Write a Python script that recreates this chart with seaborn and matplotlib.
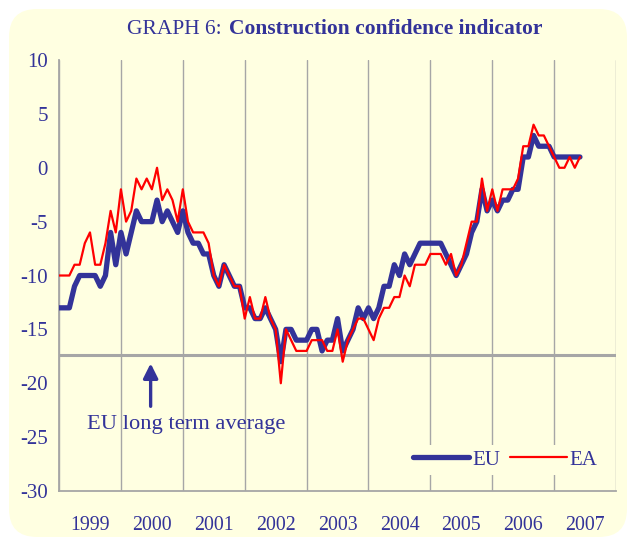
import matplotlib
matplotlib.use("Agg")
import matplotlib.pyplot as plt
from matplotlib.patches import FancyBboxPatch
from matplotlib.transforms import IdentityTransform
from matplotlib.lines import Line2D
import pandas as pd
import seaborn as sns

# monthly values, Jan 1999 .. Jun 2007
months = pd.date_range("1999-01-01", periods=102, freq="MS")
eu = [-13, -13, -13, -11, -10, -10, -10, -10, -11, -10, -6, -9,
      -6, -8, -6, -4, -5, -5, -5, -3, -5, -4, -5, -6,
      -4, -6, -7, -7, -8, -8, -10, -11, -9, -10, -11, -11,
      -13, -13, -14, -14, -13, -14, -15, -18, -15, -15, -16, -16,
      -16, -15, -15, -17, -16, -16, -14, -17, -16, -15, -13, -14,
      -13, -14, -13, -11, -11, -9, -10, -8, -9, -8, -7, -7,
      -7, -7, -7, -8, -9, -10, -9, -8, -6, -5, -2, -4,
      -3, -4, -3, -3, -2, -2, 1, 1, 3, 2, 2, 2,
      1, 1, 1, 1, 1, 1]
ea = [-10, -10, -10, -9, -9, -7, -6, -9, -9, -7, -4, -6,
      -2, -5, -4, -1, -2, -1, -2, 0, -3, -2, -3, -5,
      -2, -5, -6, -6, -6, -7, -10, -11, -9, -10, -11, -11,
      -14, -12, -14, -14, -12, -14, -15, -20, -15, -16, -17, -17,
      -17, -16, -16, -16, -17, -17, -15, -18, -16, -15, -14, -14,
      -15, -16, -14, -13, -13, -12, -12, -10, -11, -9, -9, -9,
      -8, -8, -8, -9, -8, -10, -9, -7, -5, -5, -1, -4,
      -2, -4, -2, -2, -2, -1, 2, 2, 4, 3, 3, 2,
      1, 0, 0, 1, 0, 1]
years = list(range(1999, 2008))
y_ticks = [10, 5, 0, -5, -10, -15, -20, -25, -30]
eu_long_term_avg = -17.4

navy = "#333399"
cream = "#FFFFE1"
grey = "#A6A6A6"

sns.set_style("white")
plt.rcParams["font.family"] = ["Liberation Serif", "DejaVu Serif"]
plt.rcParams["axes.unicode_minus"] = False

df = pd.DataFrame({"t": months.year + (months.month - 1) / 12, "EU": eu, "EA": ea})

fig = plt.figure(figsize=(6.28, 5.38), dpi=100, facecolor="white")
# rounded cream panel behind everything
fig.add_artist(FancyBboxPatch((9, 1), 618, 528, boxstyle="round,pad=0,rounding_size=28",
                              transform=IdentityTransform(), facecolor=cream,
                              edgecolor="none", zorder=0))

ax = fig.add_axes([0.094, 0.0874, 0.887, 0.801])
ax.set_facecolor(cream)

ax.axhline(eu_long_term_avg, color=grey, lw=2.2, zorder=1)
sns.lineplot(data=df, x="t", y="EU", ax=ax, color=navy, lw=3.8, zorder=3)
sns.lineplot(data=df, x="t", y="EA", ax=ax, color="red", lw=1.6, zorder=4)

ax.set_xlim(1999, 2008)
ax.set_ylim(-30, 10)
ax.set_xlabel("")
ax.set_ylabel("")

# year boundaries as grid, labels centred in each year
ax.set_xticks(years + [2008])
ax.set_xticklabels([])
ax.set_xticks([y + 0.5 for y in years], minor=True)
ax.set_xticklabels([str(y) for y in years], minor=True)
ax.grid(axis="x", which="major", color=grey, lw=1)
ax.tick_params(axis="x", which="both", length=0)
ax.tick_params(axis="x", which="minor", pad=18, labelsize=14.3, labelcolor=navy)

ax.set_yticks(y_ticks)
ax.set_yticklabels([str(v) for v in y_ticks])
ax.tick_params(axis="y", direction="in", length=6, color=grey, pad=8,
               labelsize=15, labelcolor=navy)

for s in ["top", "right"]:
    ax.spines[s].set_visible(False)
for s in ["left", "bottom"]:
    ax.spines[s].set_color(grey)
    ax.spines[s].set_linewidth(1.3)

ax.annotate("", xy=(2000.48, -17.9), xytext=(2000.48, -22.4),
            arrowprops=dict(arrowstyle="-|>", color=navy, lw=2.4, mutation_scale=22))
ax.text(2001.05, -23.8, "EU long term average", ha="center", va="center",
        color=navy, fontsize=16.2)

handles = [Line2D([], [], color=navy, lw=3.8), Line2D([], [], color="red", lw=1.6)]
leg = ax.legend(handles, ["EU", "EA"], ncol=2, loc="center right",
                bbox_to_anchor=(0.995, 0.072), frameon=True, facecolor=cream,
                edgecolor="none", framealpha=1, handlelength=2.7, fontsize=15,
                labelcolor=navy, columnspacing=0.5, handletextpad=0.15,
                borderpad=0.25, fancybox=False)

fig.text(0.3535, 0.946, "GRAPH 6:", ha="right", va="center", color=navy, fontsize=15.5)
fig.text(0.3645, 0.946, "Construction confidence indicator", ha="left", va="center",
         color=navy, fontsize=15.5, fontweight="bold")

fig.savefig("out.png", dpi=100)
